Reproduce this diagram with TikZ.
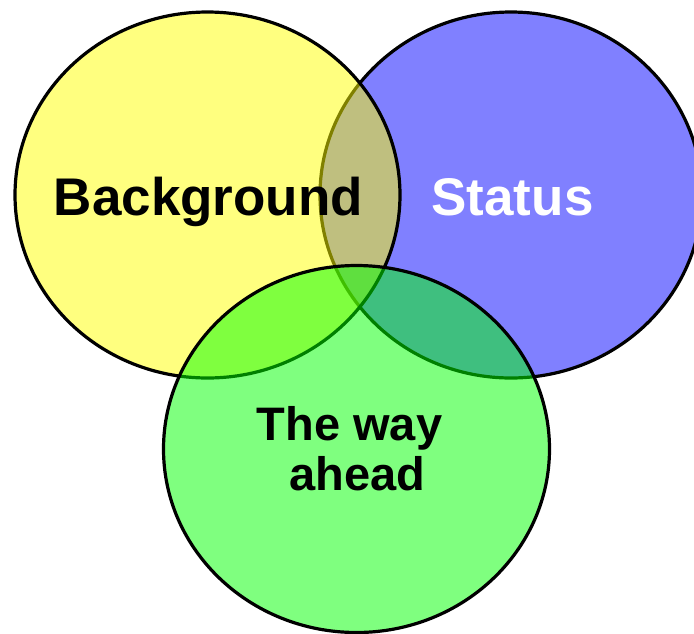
\documentclass[tikz,border=0pt]{standalone}
\usepackage{fontspec}
\setmainfont{Liberation Sans}
\definecolor{blueF}{RGB}{128,128,255}
\definecolor{yelF}{RGB}{255,255,0}
\definecolor{grnF}{RGB}{0,255,0}
\begin{document}
\begin{tikzpicture}[x=1pt,y=-1pt,
  ring/.style={draw=black,line width=3.2pt},
  lbl/.style={font=\bfseries\fontsize{#1}{#1}\selectfont,anchor=base,inner sep=0pt}]
\clip (0,0) rectangle (694,633);
\useasboundingbox (0,0) rectangle (694,633);
\path[ring,fill=blueF] (511,195) ellipse [x radius=191,y radius=183];
\path[ring,fill=yelF,fill opacity=0.5] (207.5,195) ellipse [x radius=192.5,y radius=183];
\path[ring,fill=grnF,fill opacity=0.5] (356.5,449) ellipse [x radius=193,y radius=183.5];
\node[lbl=53] (bg) at (208.5,215) {Background};
\node[lbl=53,text=white] (st) at (512.5,215) {Status};
\node[lbl=47] (tw) at (349.5,440) {The way};
\node[lbl=47] (ah) at (357.5,490) {ahead};
\end{tikzpicture}
\end{document}
